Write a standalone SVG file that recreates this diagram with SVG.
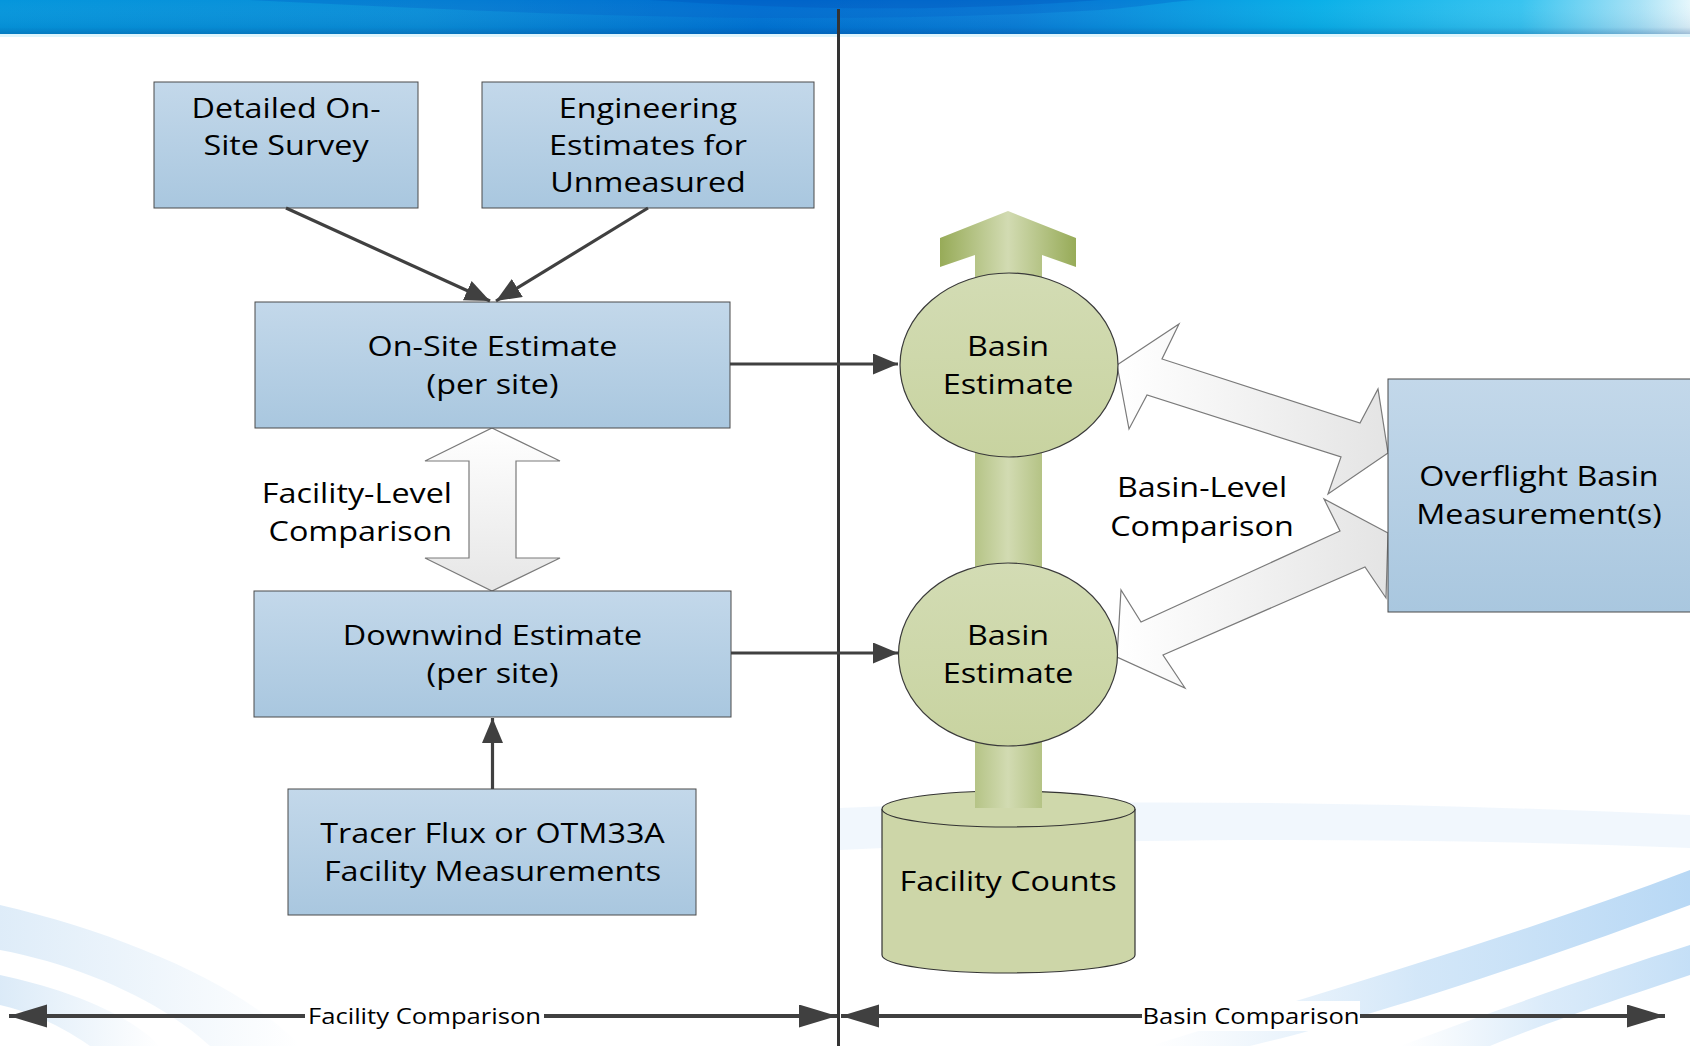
<svg xmlns="http://www.w3.org/2000/svg" width="1690" height="1046" viewBox="0 0 1690 1046">
<defs>
<linearGradient id="banner" x1="0" y1="0" x2="1" y2="0">
<stop offset="0" stop-color="#0596dc"/>
<stop offset="0.25" stop-color="#0a8ed8"/>
<stop offset="0.45" stop-color="#0074d4"/>
<stop offset="0.6" stop-color="#0a7fd8"/>
<stop offset="0.78" stop-color="#0ab0e8"/>
<stop offset="0.9" stop-color="#38c4f0"/>
<stop offset="0.97" stop-color="#a8e2f6"/>
<stop offset="1" stop-color="#e6f7fc"/>
</linearGradient>
<linearGradient id="bannerShade" x1="0" y1="0" x2="0" y2="1">
<stop offset="0" stop-color="#ffffff" stop-opacity="0"/>
<stop offset="0.8" stop-color="#003a80" stop-opacity="0.08"/>
<stop offset="1" stop-color="#003a80" stop-opacity="0.3"/>
</linearGradient>
<linearGradient id="boxFill" x1="0" y1="0" x2="0" y2="1">
<stop offset="0" stop-color="#c3d8ea"/>
<stop offset="1" stop-color="#a9c7df"/>
</linearGradient>
<linearGradient id="greenFill" x1="0" y1="0" x2="0" y2="1">
<stop offset="0" stop-color="#d3dcb4"/>
<stop offset="1" stop-color="#c8d3a0"/>
</linearGradient>
<linearGradient id="shaft" x1="0" y1="0" x2="1" y2="0">
<stop offset="0" stop-color="#97ab58"/>
<stop offset="0.5" stop-color="#d2dbb2"/>
<stop offset="1" stop-color="#97ab58"/>
</linearGradient>
<linearGradient id="whiteArrow" x1="0" y1="0" x2="1" y2="0">
<stop offset="0" stop-color="#ffffff"/>
<stop offset="1" stop-color="#e4e4e4"/>
</linearGradient>
<linearGradient id="whiteArrowV" x1="0" y1="0" x2="0" y2="1">
<stop offset="0" stop-color="#ffffff"/>
<stop offset="1" stop-color="#e6e6e6"/>
</linearGradient>
<linearGradient id="swoosh" x1="0" y1="0" x2="1" y2="0">
<stop offset="0" stop-color="#9cc8ee" stop-opacity="0"/>
<stop offset="0.5" stop-color="#8cc0ee" stop-opacity="0.7"/>
<stop offset="1" stop-color="#6fb0ea" stop-opacity="0.9"/>
</linearGradient>
<linearGradient id="swooshL" x1="0" y1="0" x2="1" y2="0">
<stop offset="0" stop-color="#b4d4f0" stop-opacity="0.8"/>
<stop offset="1" stop-color="#b4d4f0" stop-opacity="0"/>
</linearGradient>
<marker id="head" markerUnits="userSpaceOnUse" markerWidth="26" markerHeight="22" refX="25" refY="10.5" orient="auto">
<path d="M0,0 L25,10.5 L0,21 z" fill="#404040"/>
</marker>
<marker id="bigHead" markerUnits="userSpaceOnUse" markerWidth="40" markerHeight="24" refX="38" refY="11.5" orient="auto-start-reverse">
<path d="M0,0 L38,11.5 L0,23 z" fill="#404040"/>
</marker>
</defs>
<style>
.box{fill:url(#boxFill);stroke:#4a4a4a;stroke-width:1}
.green{fill:url(#greenFill);stroke:#3a3a3a;stroke-width:1.2}
.t{font-family:"Open Sans","Liberation Sans",sans-serif;font-size:26.5px;fill:#000;text-anchor:middle}
.te{font-family:"Open Sans","Liberation Sans",sans-serif;font-size:26.5px;fill:#000;text-anchor:end}
.lab{font-family:"Open Sans","Liberation Sans",sans-serif;font-size:21px;fill:#000;text-anchor:middle}
.conn{stroke:#404040;stroke-width:3.2;fill:none}
.big{stroke:#404040;stroke-width:4;fill:none}
.wa{stroke:#7a7a7a;stroke-width:1.2}
</style>

<rect x="0" y="0" width="1690" height="1046" fill="#ffffff"/>

<g id="background">
<path d="M0,905 C130,935 250,990 300,1046 L210,1046 C160,1000 80,965 0,950 z" fill="url(#swooshL)" opacity="0.55"/>
<path d="M0,975 C70,990 130,1015 160,1046 L90,1046 C60,1025 30,1012 0,1005 z" fill="url(#swooshL)" opacity="0.6"/>
<path d="M840,808 C1100,798 1400,802 1690,815 L1690,848 C1400,836 1100,838 840,850 z" fill="#e8f1fb" opacity="0.6"/>
<path d="M1150,1046 C1330,990 1520,935 1690,870 L1690,905 C1530,965 1360,1020 1250,1046 z" fill="url(#swoosh)" opacity="0.55"/>
<path d="M1400,1046 C1510,1005 1610,970 1690,945 L1690,975 C1615,1000 1540,1025 1490,1046 z" fill="url(#swoosh)" opacity="0.45"/>
</g>

<g id="banner">
<rect x="0" y="0" width="1690" height="34" fill="url(#banner)"/>
<path d="M250,0 C500,12 800,28 1100,10 C1150,6 1180,0 1200,0 z" fill="#0060c8" opacity="0.35"/>
<path d="M650,0 C800,10 950,12 1100,0 z" fill="#004fb8" opacity="0.3"/>
<rect x="0" y="0" width="1690" height="34" fill="url(#bannerShade)"/>
<rect x="0" y="34" width="1690" height="3" fill="#d6f2fb" opacity="0.8"/>
</g>

<line id="divider" x1="838.5" y1="9" x2="838.5" y2="1046" stroke="#333333" stroke-width="3"/>

<g id="comparison-arrows">
<polygon id="facility-level-arrow" class="wa" fill="url(#whiteArrowV)" points="492,428 560,461 516,461 516,558 560,558 492,591 425,558 469,558 469,461 425,461"/>
<polygon id="basin-level-arrow-1" class="wa" fill="url(#whiteArrow)" points="1117,365 1179,324 1162,359 1360,423 1378,389 1388,453 1328,494 1341,457 1147,395 1129,429"/>
<polygon id="basin-level-arrow-2" class="wa" fill="url(#whiteArrow)" points="1388,533 1324,499 1340,531 1141,622 1121,590 1117,657 1185,688 1163,655 1365,567 1386,598"/>
</g>

<g id="facility-counts">
<path d="M882,809 L882,955 A126.5,18 0 0 0 1135,955 L1135,809" fill="#cdd6a8" stroke="#333" stroke-width="1.2"/>
<ellipse cx="1008.5" cy="809" rx="126.5" ry="18" fill="#cfd8ab" stroke="#333" stroke-width="1.2"/>
<text class="t" transform="translate(1008,0) scale(1.22,1)" x="0" y="891">Facility Counts</text>
</g>

<g id="aggregation-arrow">
<polygon fill="url(#shaft)" points="975,808 975,255 940,267 940,238 1008,211 1076,238 1076,267 1042,255 1042,808"/>
</g>

<g id="basin-estimate-1">
<ellipse class="green" cx="1009" cy="365" rx="109" ry="92"/>
<text class="t" transform="translate(1008,0) scale(1.22,1)" x="0" y="356">Basin</text>
<text class="t" transform="translate(1008,0) scale(1.22,1)" x="0" y="394">Estimate</text>
</g>

<g id="basin-estimate-2">
<ellipse class="green" cx="1008" cy="654.5" rx="109.5" ry="91.5"/>
<text class="t" transform="translate(1008,0) scale(1.22,1)" x="0" y="645">Basin</text>
<text class="t" transform="translate(1008,0) scale(1.22,1)" x="0" y="683">Estimate</text>
</g>

<g id="detailed-survey">
<rect class="box" x="154" y="82" width="264" height="126"/>
<text class="t" transform="translate(286,0) scale(1.22,1)" x="0" y="118">Detailed On-</text>
<text class="t" transform="translate(286,0) scale(1.22,1)" x="0" y="155">Site Survey</text>
</g>

<g id="engineering-estimates">
<rect class="box" x="482" y="82" width="332" height="126"/>
<text class="t" transform="translate(648,0) scale(1.22,1)" x="0" y="118">Engineering</text>
<text class="t" transform="translate(648,0) scale(1.22,1)" x="0" y="155">Estimates for</text>
<text class="t" transform="translate(648,0) scale(1.22,1)" x="0" y="192">Unmeasured</text>
</g>

<g id="onsite-estimate">
<rect class="box" x="255" y="302" width="475" height="126"/>
<text class="t" transform="translate(492.5,0) scale(1.22,1)" x="0" y="356">On-Site Estimate</text>
<text class="t" transform="translate(492.5,0) scale(1.22,1)" x="0" y="394">(per site)</text>
</g>

<g id="facility-level-label">
<text class="te" transform="translate(452,0) scale(1.22,1)" x="0" y="503">Facility-Level</text>
<text class="te" transform="translate(452,0) scale(1.22,1)" x="0" y="541">Comparison</text>
</g>

<g id="downwind-estimate">
<rect class="box" x="254" y="591" width="477" height="126"/>
<text class="t" transform="translate(492.5,0) scale(1.22,1)" x="0" y="645">Downwind Estimate</text>
<text class="t" transform="translate(492.5,0) scale(1.22,1)" x="0" y="683">(per site)</text>
</g>

<g id="tracer-flux">
<rect class="box" x="288" y="789" width="408" height="126"/>
<text class="t" transform="translate(492.5,0) scale(1.22,1)" x="0" y="843">Tracer Flux or OTM33A</text>
<text class="t" transform="translate(492.5,0) scale(1.22,1)" x="0" y="881">Facility Measurements</text>
</g>

<g id="basin-level-label">
<text class="t" transform="translate(1202,0) scale(1.22,1)" x="0" y="497">Basin-Level</text>
<text class="t" transform="translate(1202,0) scale(1.22,1)" x="0" y="536">Comparison</text>
</g>

<g id="overflight">
<rect class="box" x="1388" y="379" width="320" height="233"/>
<text class="t" transform="translate(1539,0) scale(1.22,1)" x="0" y="486">Overflight Basin</text>
<text class="t" transform="translate(1539,0) scale(1.22,1)" x="0" y="524">Measurement(s)</text>
</g>

<g id="connectors">
<line class="conn" x1="286" y1="208" x2="490" y2="301" marker-end="url(#head)"/>
<line class="conn" x1="648" y1="208" x2="496" y2="301" marker-end="url(#head)"/>
<line class="conn" x1="730" y1="364" x2="898" y2="364" marker-end="url(#head)"/>
<line class="conn" x1="731" y1="653" x2="898" y2="653" marker-end="url(#head)"/>
<line class="conn" x1="492.5" y1="789" x2="492.5" y2="718" marker-end="url(#head)"/>
<line class="big" x1="9" y1="1016" x2="837" y2="1016" marker-start="url(#bigHead)" marker-end="url(#bigHead)"/>
<line class="big" x1="841" y1="1016" x2="1665" y2="1016" marker-start="url(#bigHead)" marker-end="url(#bigHead)"/>
</g>

<g id="scope-labels">
<rect x="305" y="1001" width="239" height="30" fill="#ffffff"/>
<text class="lab" transform="translate(424.5,0) scale(1.22,1)" x="0" y="1024">Facility Comparison</text>
<rect x="1142" y="1001" width="218" height="30" fill="#ffffff"/>
<text class="lab" transform="translate(1251,0) scale(1.22,1)" x="0" y="1024">Basin Comparison</text>
</g>
</svg>
